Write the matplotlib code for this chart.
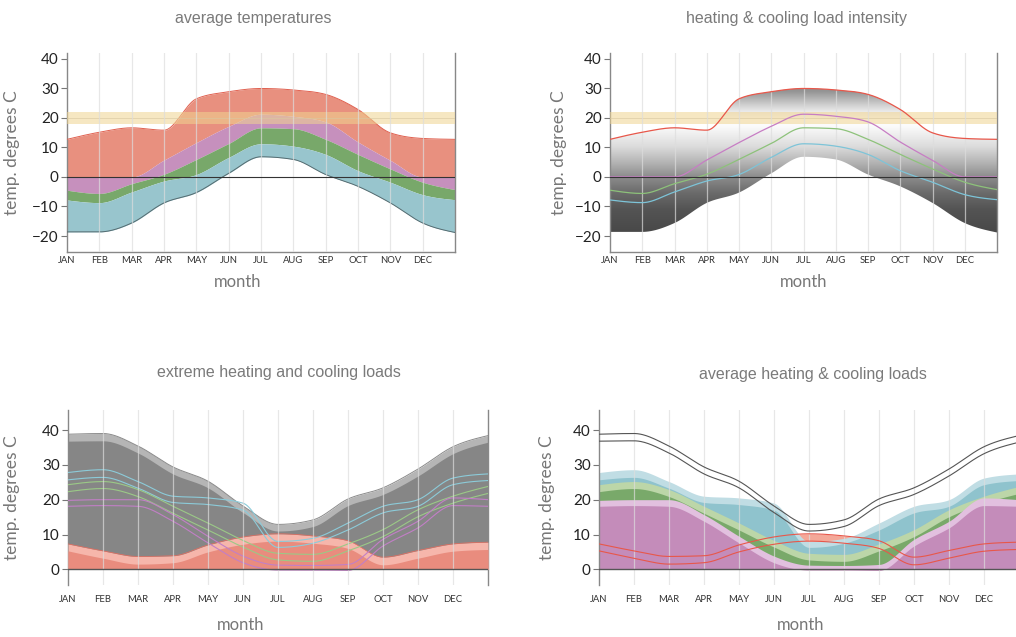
import numpy as np
import matplotlib.pyplot as plt

plt.rcParams['font.family'] = ['Lato', 'DejaVu Sans']

months = ['JAN', 'FEB', 'MAR', 'APR', 'MAY', 'JUN', 'JUL', 'AUG', 'SEP', 'OCT', 'NOV', 'DEC']

# monthly temperature curves (value at start of each month + year end)
t_max = [12.7, 15.1, 16.6, 15.8, 26.4, 28.8, 29.9, 29.4, 27.9, 22.8, 14.9, 13.0, 12.7]
t_purple = [0, 0, 0, 5.7, 11.6, 17.1, 21.2, 20.5, 18.6, 11.8, 5.6, 0, 0]
t_green = [-4.5, -5.6, -2.3, 0.9, 5.9, 11.3, 16.6, 16.3, 12.7, 7.6, 2.7, -1.8, -4.3]
t_blue = [-7.8, -8.7, -5.1, -1.4, 0.8, 6.6, 11.2, 10.4, 7.6, 2.1, -1.8, -6.0, -7.7]
t_min = [-18.6, -18.6, -15.6, -8.8, -5.3, 1.2, 6.8, 5.9, 0.8, -3.2, -8.8, -15.6, -18.8]
comfort = (18, 22)

# heating / cooling loads (outer and inner edge of each band)
grey_outer = [38.8, 39.0, 35.4, 29.4, 25.3, 18.2, 12.9, 14.2, 20.2, 23.4, 28.8, 35.2, 38.4]
grey_inner = [36.8, 36.9, 33.4, 27.4, 23.4, 16.3, 11.0, 12.3, 18.3, 21.5, 26.8, 33.2, 36.5]
red_outer = [7.3, 5.3, 3.7, 3.9, 7.0, 9.3, 10.2, 9.6, 8.2, 3.5, 5.4, 7.3, 7.8]
red_inner = [5.3, 3.2, 1.5, 1.9, 5.0, 7.2, 8.1, 7.5, 6.0, 1.3, 3.2, 5.2, 5.7]
cyan_outer = [27.8, 28.6, 25.2, 21.0, 20.5, 19.0, 8.0, 8.9, 13.3, 18.1, 20.0, 26.2, 27.4]
cyan_inner = [25.7, 26.4, 23.3, 19.2, 18.6, 17.0, 6.3, 7.5, 11.3, 16.2, 18.1, 24.3, 25.5]
green_outer = [24.3, 25.2, 22.9, 18.1, 13.3, 8.3, 4.6, 4.3, 7.3, 11.4, 17.1, 21.0, 23.8]
green_inner = [22.3, 23.2, 20.9, 16.1, 11.3, 6.4, 2.7, 2.3, 5.3, 9.4, 15.1, 19.0, 21.8]
purple_outer = [19.8, 20.0, 20.0, 15.7, 9.5, 3.8, 1.2, 1.1, 1.4, 8.6, 13.8, 20.5, 20.0]
purple_inner = [18.1, 18.3, 18.1, 13.8, 7.6, 1.9, -0.2, -0.2, -0.3, 6.7, 11.9, 18.3, 18.1]


def monotone(y, n=40):
    # monotone cubic curve through the points (like d3 curveMonotoneX)
    y = np.asarray(y, float)
    x = np.arange(len(y), dtype=float)
    s = np.diff(y)
    m = np.zeros_like(y)
    for k in range(1, len(y) - 1):
        p = (s[k - 1] + s[k]) / 2
        sg = (1 if s[k - 1] >= 0 else -1) + (1 if s[k] >= 0 else -1)
        m[k] = sg * min(abs(s[k - 1]), abs(s[k]), 0.5 * abs(p))
    m[0] = (3 * s[0] - m[1]) / 2
    m[-1] = (3 * s[-1] - m[-2]) / 2
    xs, ys = [], []
    for k in range(len(y) - 1):
        t = np.linspace(0, 1, n, endpoint=(k == len(y) - 2))
        h00 = 2 * t**3 - 3 * t**2 + 1
        h10 = t**3 - 2 * t**2 + t
        h01 = -2 * t**3 + 3 * t**2
        h11 = t**3 - t**2
        xs.append(x[k] + t)
        ys.append(h00 * y[k] + h10 * m[k] + h01 * y[k + 1] + h11 * m[k + 1])
    return np.concatenate(xs), np.concatenate(ys)


W, H = 1016, 637
fig = plt.figure(figsize=(W / 100, H / 100), dpi=100)


def add_ax(l, t, r, b):
    return fig.add_axes([l / W, 1 - b / H, (r - l) / W, (b - t) / H])


def style(ax, ylim, yticks, top_row):
    ax.set_xlim(0, 12)
    ax.set_ylim(*ylim)
    ax.set_xticks(range(12))
    ax.set_xticklabels(months)
    ax.set_yticks(yticks)
    ax.tick_params(axis='x', length=0, labelsize=6.8, labelcolor='#333333',
                   pad=3 if top_row else 7)
    ax.tick_params(axis='y', length=4, width=0.8, color='#777777',
                   labelsize=11, labelcolor='#222222', pad=2)
    for xv in range(1, 12):
        ax.axvline(xv, color='#dddddd', lw=0.9, alpha=0.7, zorder=6)
    ax.spines['top'].set_visible(False)
    for sp in ['left', 'right', 'bottom']:
        ax.spines[sp].set_color('#888888')
        ax.spines[sp].set_linewidth(1)
    if not top_row:
        ax.spines['bottom'].set_visible(False)
    ax.set_xlabel('month', fontsize=12, color='#777777')
    ax.xaxis.label.set_va('center')
    ax.set_ylabel('temp. degrees C', fontsize=12.5, color='#777777')


ax1 = add_ax(67, 53, 455, 252)
ax2 = add_ax(610, 53, 997, 252)
ax3 = add_ax(68, 410, 488, 585)
ax4 = add_ax(599, 410, 1019, 585)

top_ylim = (-25.4, 41.9)
bot_ylim = (-4.5, 45.75)

# ---- average temperatures
x, ymax = monotone(t_max)
_, ypur = monotone(t_purple)
_, ygrn = monotone(t_green)
_, yblu = monotone(t_blue)
_, ymin = monotone(t_min)
ax1.fill_between(x, ymax, ypur, color='#e8907f', lw=0, zorder=2)
ax1.fill_between(x, ypur, ygrn, color='#c690bd', lw=0, zorder=2)
ax1.fill_between(x, ygrn, yblu, color='#78a86a', lw=0, zorder=2)
ax1.fill_between(x, yblu, ymin, color='#98c5cd', lw=0, zorder=2)
ax1.plot(x, ymax, color='#e0604f', lw=0.7, zorder=3)
ax1.plot(x, ymin, color='#556b70', lw=0.7, zorder=3)

# ---- heating & cooling load intensity (grey gradient inside the range)
gy = np.linspace(top_ylim[0], top_ylim[1], 400)
grad_y = [-25.4, -17.6, -10.9, -5.3, 0, 4.7, 10.2, 16.9, 19, 22.4, 24.7, 29, 41.9]
grad_v = [0.28, 0.29, 0.33, 0.42, 0.55, 0.70, 0.86, 0.98, 1.0, 0.91, 0.80, 0.58, 0.50]
gv = np.interp(gy, grad_y, grad_v)
img = np.repeat(gv[:, None, None], 3, axis=2)
poly = ax2.fill_between(x, ymax, ymin, facecolor='none', lw=0)
im = ax2.imshow(img, extent=(0, 12, top_ylim[0], top_ylim[1]), origin='lower',
                aspect='auto', zorder=2, interpolation='bilinear')
im.set_clip_path(poly.get_paths()[0], transform=ax2.transData)
ax2.plot(x, ymax, color='#e8574a', lw=0.9, zorder=7)
ax2.plot(x, ypur, color='#c77dc4', lw=0.9, zorder=7)
ax2.plot(x, ygrn, color='#8dc27a', lw=0.9, zorder=7)
ax2.plot(x, yblu, color='#7dc4d8', lw=0.9, zorder=7)

for ax in (ax1, ax2):
    ax.axhspan(comfort[0], comfort[1], color='#f0d490', alpha=0.55, lw=0, zorder=5)
    ax.axhline(sum(comfort) / 2, color='#d8c8a0', lw=0.6, alpha=0.7, zorder=5)
    ax.axhline(0, color='#333333', lw=0.8, zorder=8)
    style(ax, top_ylim, [-20, -10, 0, 10, 20, 30, 40], True)

# ---- extreme heating and cooling loads
_, go = monotone(grey_outer)
_, gi = monotone(grey_inner)
_, ro = monotone(red_outer)
_, ri = monotone(red_inner)
_, co = monotone(cyan_outer)
_, ci = monotone(cyan_inner)
_, eo = monotone(green_outer)
_, ei = monotone(green_inner)
_, po = monotone(purple_outer)
_, pi = monotone(purple_inner)

ax3.fill_between(x, go, 0, color='#b5b5b5', lw=0, zorder=2)
ax3.fill_between(x, gi, 0, color='#868686', lw=0, zorder=2)
ax3.plot(x, go, color='#8a8a8a', lw=0.7, zorder=3)
ax3.fill_between(x, ro, 0, color='#f6b6ab', lw=0, zorder=3)
ax3.fill_between(x, ri, 0, color='#e98c7e', lw=0, zorder=3)
ax3.plot(x, ro, color='#ea6b5c', lw=0.5, zorder=3)
for yy, c in [(co, '#8ccbd9'), (ci, '#8ccbd9'), (eo, '#9bc986'), (ei, '#9bc986'),
              (po, '#c27fc6'), (pi, '#c27fc6')]:
    ax3.plot(x, yy, color=c, lw=0.8, zorder=4)

# ---- average heating & cooling loads
ax4.fill_between(x, ro, ri, color='#f4a898', lw=0, zorder=2)
ax4.fill_between(x, co, 0, color='#c0dde4', lw=0, zorder=2)
ax4.fill_between(x, ci, 0, color='#8fc3cd', lw=0, zorder=2)
ax4.fill_between(x, eo, 0, color='#bcd6a8', lw=0, zorder=2)
ax4.fill_between(x, ei, 0, color='#79a96a', lw=0, zorder=2)
ax4.fill_between(x, po, 0, color='#e2c0df', lw=0, zorder=2)
ax4.fill_between(x, pi, 0, color='#c48cba', lw=0, zorder=2)
for yy in (go, gi):
    ax4.plot(x, yy, color='#555555', lw=0.8, zorder=7)
for yy in (ro, ri):
    ax4.plot(x, yy, color='#e8574a', lw=0.8, zorder=7)

for ax in (ax3, ax4):
    ax.axhline(0, color='#555555', lw=1, zorder=8)
    style(ax, bot_ylim, [0, 10, 20, 30, 40], False)

ax1.yaxis.set_label_coords(-0.121, 0.5)
ax2.yaxis.set_label_coords(-0.111, 0.5)
ax3.yaxis.set_label_coords(-0.114, 0.5)
ax4.yaxis.set_label_coords(-0.105, 0.5)
ax1.xaxis.set_label_coords(0.44, -0.151)
ax2.xaxis.set_label_coords(0.50, -0.151)
ax3.xaxis.set_label_coords(0.41, -0.229)
ax4.xaxis.set_label_coords(0.479, -0.229)

titles = [('average temperatures', 253, 18), ('heating & cooling load intensity', 797, 18),
          ('extreme heating and cooling loads', 279, 372),
          ('average heating & cooling loads', 813, 375)]
for txt, tx, ty in titles:
    fig.text(tx / W, 1 - ty / H, txt, ha='center', va='center', fontsize=11.5,
             color='#7a7a7a', family=['Liberation Sans', 'DejaVu Sans'])

fig.savefig('out.png', dpi=100)
